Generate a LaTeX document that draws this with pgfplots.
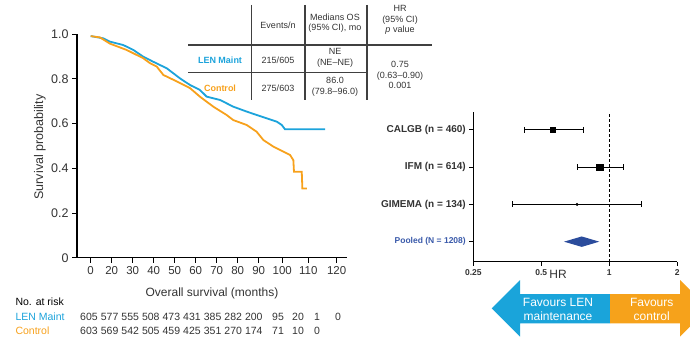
\documentclass[border=0pt]{standalone}
\usepackage{pgfplots}
\pgfplotsset{compat=1.18}
\usepackage{fontspec}
\setmainfont{Liberation Sans}
\definecolor{lenblue}{HTML}{1CA3DB}
\definecolor{ctrlorange}{HTML}{F7A11C}
\definecolor{pooledblue}{HTML}{2B4C9C}
\definecolor{pooledtxt}{HTML}{3A5AAA}
\definecolor{txt}{HTML}{333333}
\definecolor{arrblue}{HTML}{1AA4DA}
\definecolor{arrorange}{HTML}{F6A21B}
\newcommand{\fs}[2]{\fontsize{#1}{#2}\selectfont}
\begin{document}
\begin{tikzpicture}[x=1pt,y=1pt]
\path[use as bounding box] (0,0) rectangle (690,338);

% ---------------- Kaplan-Meier ----------------
\begin{axis}[
  at={(77pt,80.3pt)}, anchor=south west,
  width=270pt, height=223.4pt, scale only axis,
  xmin=-6.52, xmax=122.05, ymin=0, ymax=1,
  axis x line*=bottom, axis y line*=left,
  axis line style={line width=1.2pt, black},
  xtick={0,10,20,30,40,50,60,70,80,91.2,103.6,117.1},
  xticklabels={0,20,30,40,50,60,70,80,90,100,110,120},
  ytick={0,0.2,0.4,0.6,0.8,1},
  yticklabels={0,0.2,0.4,0.6,0.8,1.0},
  tick align=outside, major tick length=5pt,
  tick style={line width=1pt, black},
  xticklabel style={font=\fs{11.5}{13}, text=txt},
  yticklabel style={font=\fs{12.5}{14}, text=txt},
  /pgf/number format/assume math mode=true,
  clip=false,
]
\addplot[lenblue, line width=1.8pt] coordinates {
(0,0.992) (6.0,0.982) (9.2,0.967) (15.5,0.952) (20.3,0.930) (25.0,0.900)
(29.8,0.877) (36.2,0.848) (42.5,0.803) (47.3,0.773) (52.0,0.751) (55.2,0.721)
(61.6,0.706) (67.9,0.676) (74.3,0.654) (79.0,0.639) (83.8,0.624) (88.6,0.609)
(91.0,0.594) (92.5,0.575) (111.6,0.575)};
\addplot[ctrlorange, line width=1.8pt] coordinates {
(0,0.992) (4.4,0.986) (9.2,0.958) (17.1,0.930) (25.0,0.893) (28.2,0.871)
(31.4,0.856) (34.6,0.818) (41.0,0.789) (47.3,0.759) (52.0,0.721) (58.4,0.676)
(64.7,0.639) (67.9,0.616) (74.3,0.594) (79.0,0.564) (82.2,0.527) (87.0,0.497)
(91.7,0.475) (94.9,0.460) (96.5,0.437) (96.8,0.385) (100.5,0.385) (100.8,0.310)
(102.9,0.310)};
\end{axis}

\node[rotate=90, font=\fs{12.5}{14}, text=txt] at (40,191) {Survival probability};
\node[font=\fs{12}{14}, text=txt] at (212,45) {Overall survival (months)};

% at risk
\node[anchor=west, font=\fs{10.5}{12}, text=black] at (12,36.3) {No. at risk};
\node[anchor=west, font=\fs{10.5}{12}, text=lenblue] at (12,21) {LEN Maint};
\node[anchor=west, font=\fs{10.5}{12}, text=ctrlorange] at (12,7) {Control};
\foreach \x/\n in {89/605,109.6/577,130.2/555,150.8/508,171.4/473,192/431,212.6/385,233.2/282,253.8/200,278/95,298/20,317/1,338/0}
  \node[font=\fs{10.5}{12}, text=txt] at (\x,21) {\n};
\foreach \x/\n in {89/603,109.6/569,130.2/542,150.8/505,171.4/459,192/425,212.6/351,233.2/270,253.8/174,278/71,298/10,317/0}
  \node[font=\fs{10.5}{12}, text=txt] at (\x,7) {\n};

% table
\draw[line width=1.1pt, black!75] (251.7,333) -- (251.7,238);
\draw[line width=1.1pt, black!75] (305,333) -- (305,238);
\draw[line width=1.1pt, black!75] (367,333) -- (367,238);
\draw[line width=1.1pt, black!75] (188,293) -- (432,293);
\draw[line width=1.1pt, black!75] (188,265.3) -- (367,265.3);
\node[font=\fs{9}{10.5}, text=txt] at (278,313) {Events/n};
\node[font=\fs{9}{10.5}, text=txt, align=center] at (335,315) {Medians OS\\(95\% CI), mo};
\node[font=\fs{9}{10.5}, text=txt, align=center] at (400,318) {HR\\(95\% CI)\\\textit{p} value};
\node[font=\bfseries\fs{9}{10.5}, text=lenblue] at (220,278) {LEN Maint};
\node[font=\fs{9}{10.5}, text=txt] at (278,278) {215/605};
\node[font=\fs{9}{10.5}, text=txt, align=center] at (335,280) {NE\\(NE–NE)};
\node[font=\bfseries\fs{9}{10.5}, text=ctrlorange] at (220,250) {Control};
\node[font=\fs{9}{10.5}, text=txt] at (278,250) {275/603};
\node[font=\fs{9}{10.5}, text=txt, align=center] at (335,251) {86.0\\(79.8–96.0)};
\node[font=\fs{9}{10.5}, text=txt, align=center] at (400,263) {0.75\\(0.63–0.90)\\0.001};

% ---------------- Forest plot ----------------
\begin{axis}[
  at={(473.3pt,76.3pt)}, anchor=south west,
  width=204pt, height=150pt, scale only axis,
  xmode=log, log basis x=2, xmin=0.25, xmax=2,
  ymin=0.462, ymax=4.49,
  axis x line*=bottom, axis y line*=left,
  axis line style={line width=1.2pt, black},
  xtick={0.25,0.5,1,2}, xticklabels={0.25,0.5,1,2},
  minor xtick={},
  ytick={1,2,3,4},
  yticklabels={{\fs{8.5}{10}\color{pooledtxt}Pooled (N = 1208)},{GIMEMA (n = 134)},{IFM (n = 614)},{CALGB (n = 460)}},
  tick align=outside, major tick length=4pt,
  tick style={line width=1pt, black},
  xticklabel style={font=\bfseries\fs{8.5}{10}, text=txt},
  yticklabel style={font=\bfseries\fs{10}{12}, text=txt},
  clip=false,
]
\addplot[black, line width=1.2pt, dash pattern=on 2.5pt off 2.5pt] coordinates {(1,0.462) (1,4.49)};
\addplot[black, line width=1pt, mark=|, mark size=3pt, mark options={solid, line width=1pt}] coordinates {(0.423,4) (0.767,4)};
\addplot[black, line width=1pt, mark=|, mark size=3pt, mark options={solid, line width=1pt}] coordinates {(0.724,3) (1.15,3)};
\addplot[black, line width=1pt, mark=|, mark size=3pt, mark options={solid, line width=1pt}] coordinates {(0.372,2) (1.39,2)};
\addplot[only marks, mark=square*, mark size=2.6pt, black] coordinates {(0.562,4)};
\addplot[only marks, mark=square*, mark size=3.4pt, black] coordinates {(0.909,3)};
\addplot[only marks, mark=*, mark size=1.3pt, black] coordinates {(0.72,2)};
\addplot[draw=none, fill=pooledblue] coordinates {(0.63,1) (0.755,1.14) (0.903,1) (0.755,0.86) (0.63,1)};
\end{axis}
\node[font=\fs{12}{14}, text=txt] at (558,64) {HR};

% arrows
\begin{scope}
\clip (0,0) rectangle (690,338);
\fill[arrblue] (491.7,29.7) -- (520,58) -- (520,44) -- (610,44) -- (610,14.7) -- (520,14.7) -- (520,1.3) -- cycle;
\fill[arrorange] (610,44) -- (680,44) -- (680,58) -- (708.3,29.7) -- (680,1.3) -- (680,14.7) -- (610,14.7) -- cycle;
\end{scope}
\node[font=\fs{12}{13.5}, text=white, align=center] at (558,28.5) {Favours LEN\\maintenance};
\node[font=\fs{12}{13.5}, text=white, align=center] at (651.7,28.5) {Favours\\control};
\end{tikzpicture}
\end{document}
